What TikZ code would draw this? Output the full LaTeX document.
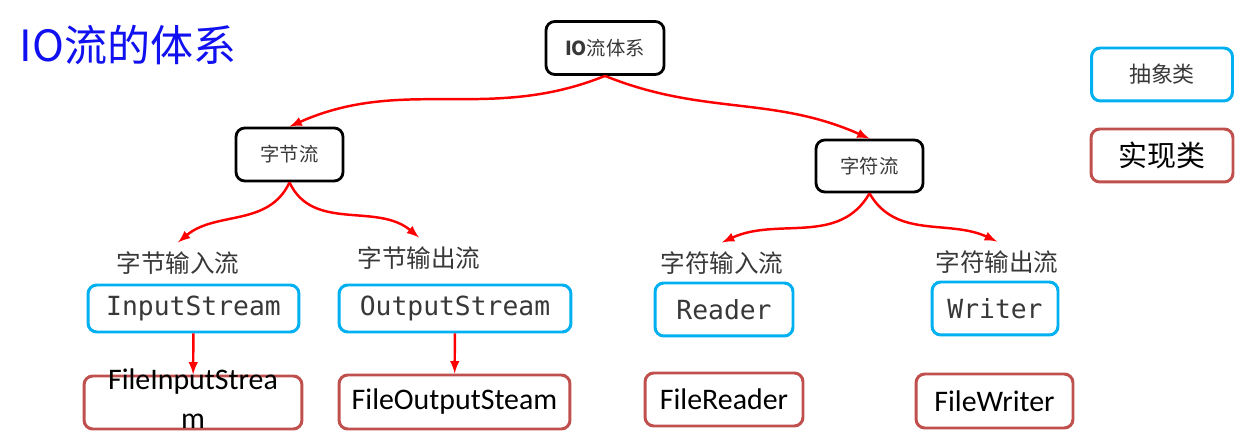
\documentclass[tikz,border=0pt]{standalone}
\usepackage{fontspec}
\newfontfamily\cjk{Noto Sans CJK SC}
\newfontfamily\monof{DejaVu Sans Mono}
\newfontfamily\calib{Carlito}
\definecolor{absblue}{HTML}{00B0F0}
\definecolor{implred}{HTML}{C0504D}
\definecolor{txtgray}{HTML}{383838}
\definecolor{penblue}{HTML}{1010F0}
\tikzset{
  grpbox/.style={draw=black, line width=1.6pt, rounded corners=5pt, inner sep=0pt,
    text=txtgray, font=\cjk\fontsize{11}{13}\selectfont},
  absbox/.style={draw=absblue, line width=1.7pt, rounded corners=5pt, inner sep=0pt,
    text=txtgray, font=\monof\fontsize{15}{18}\selectfont},
  implbox/.style={draw=implred, line width=1.7pt, rounded corners=5pt, inner sep=0pt,
    text=black, font=\calib\fontsize{17}{20}\selectfont},
  kindlbl/.style={inner sep=5pt, text=txtgray, font=\cjk\fontsize{14}{16}\selectfont},
  link/.style={-latex, red, line width=1.4pt},
}
\begin{document}
\begin{tikzpicture}[x=0.02cm,y=0.02cm]
\useasboundingbox (0,0) rectangle (1250,-445);
\node (t-title) at (128,-45) [text=penblue, font=\cjk\fontsize{24.5}{28}\selectfont] {IO流的体系};
% top of the tree
\node (t-root) at (605,-48) [grpbox, minimum width=2.36cm, minimum height=1.06cm] {\textbf{IO}流体系};
\node (t-byte) at (289.5,-154.5) [grpbox, minimum width=2.14cm, minimum height=1.06cm] {字节流};
\node (t-char) at (869.5,-166) [grpbox, minimum width=2.14cm, minimum height=1.04cm] {字符流};
% legend
\node (k-abs) at (1162,-74.5) [absbox, minimum width=2.82cm, minimum height=1.06cm, font=\cjk\fontsize{12.5}{15}\selectfont] {抽象类};
\node (k-impl) at (1162,-155.5) [implbox, minimum width=2.84cm, minimum height=1.06cm, font=\cjk\fontsize{16.5}{19}\selectfont] {实现类};
% kinds of streams
\node (t-0L0) at (178,-263) [kindlbl] {字节输入流};
\node (t-0L1) at (419,-258) [kindlbl] {字节输出流};
\node (t-1L0) at (722,-263) [kindlbl] {字符输入流};
\node (t-1L1) at (997,-262) [kindlbl] {字符输出流};
% abstract classes
\node (t-0A0) at (193.5,-308.5) [absbox, minimum width=4.22cm, minimum height=0.94cm] {InputStream};
\node (t-0A1) at (455,-308.5) [absbox, minimum width=4.64cm, minimum height=0.94cm] {OutputStream};
\node (t-1A0) at (724,-309.5) [absbox, minimum width=2.76cm, minimum height=1.06cm] {Reader};
\node (t-1A1) at (995,-308.5) [absbox, minimum width=2.52cm, minimum height=1.06cm] {Writer};
% implementations
\node (t-0I0) at (193,-402.5) [implbox, minimum width=4.36cm, minimum height=1.06cm] {\raisebox{-8pt}{\smash{\begin{tabular}{@{}c@{}}FileInputStrea\\[2.5pt]m\end{tabular}}}};
\node (t-0I1) at (454.5,-402) [implbox, minimum width=4.62cm, minimum height=1.08cm] {FileOutputSteam};
\node (t-1I0) at (724,-399.5) [implbox, minimum width=3.16cm, minimum height=1.06cm] {FileReader};
\node (t-1I1) at (994.5,-401) [implbox, minimum width=3.14cm, minimum height=1.08cm] {FileWriter};
\draw[link] (t-root.south) to[out=-158,in=24] (t-byte.north);
\draw[link] (t-root.south) to[out=-22,in=156] (t-char.north);
\draw[link] (t-byte.south) to[out=-115,in=40] (t-0L0.north);
\draw[link] (t-byte.south) to[out=-65,in=140] (t-0L1.north);
\draw[link] (t-char.south) to[out=-120,in=25] (t-1L0.north);
\draw[link] (t-char.south) to[out=-60,in=155] (t-1L1.north);
\draw[link] (t-0A0) -- (t-0I0);
\draw[link] (t-0A1) -- (t-0I1);
\end{tikzpicture}
\end{document}
